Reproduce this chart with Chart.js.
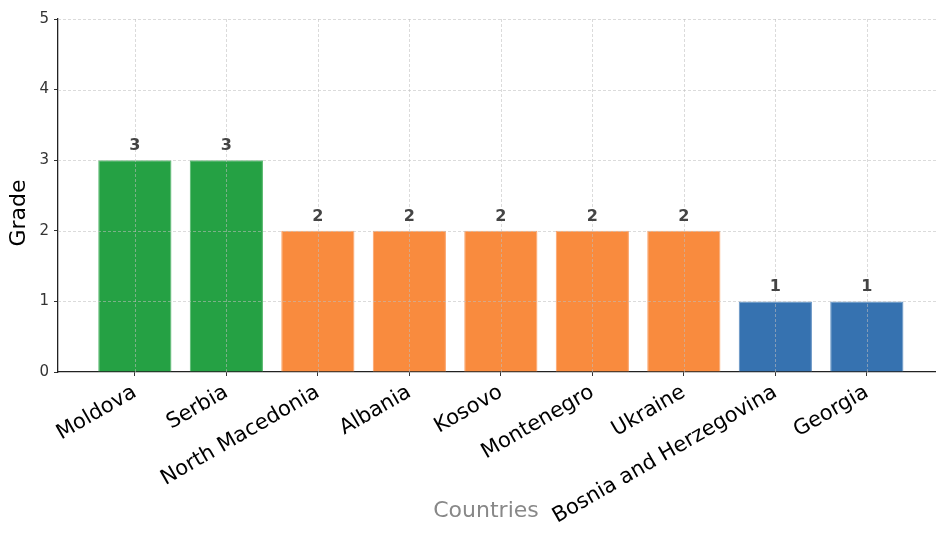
<!DOCTYPE html>
<html>
<head>
<meta charset="utf-8">
<script src="https://cdn.jsdelivr.net/npm/chart.js@4"></script>
<style>
  body { margin: 0; background: #fff; }
  canvas { display: block; }
</style>
</head>
<body>
<canvas id="gradeChart" width="936" height="536"></canvas>
<script>
// Countries and their grades
const countries = ["Moldova", "Serbia", "North Macedonia", "Albania", "Kosovo", "Montenegro", "Ukraine", "Bosnia and Herzegovina", "Georgia"];
const grades = [3, 3, 2, 2, 2, 2, 2, 1, 1];
const yTicks = [0, 1, 2, 3, 4, 5];

// Colour per grade
const gradeColors = { 3: "#25a144", 2: "#f98b3e", 1: "#3672b0" };
const gradeEdges = { 3: "#4fb567", 2: "#fba268", 1: "#5f8fc2" };

const FONT = "'DejaVu Sans', sans-serif";

// Dashed grid drawn on top of the bars
const gridOnTop = {
  id: "gridOnTop",
  afterDatasetsDraw(chart) {
    const { ctx, chartArea, scales } = chart;
    ctx.save();
    ctx.strokeStyle = "rgba(190,190,190,0.7)";
    ctx.lineWidth = 0.8;
    ctx.setLineDash([3, 2]);
    scales.y.ticks.forEach((t) => {
      if (t.value === 0) return;
      const y = Math.round(scales.y.getPixelForValue(t.value)) + 0.5;
      ctx.beginPath();
      ctx.moveTo(chartArea.left, y);
      ctx.lineTo(chartArea.right, y);
      ctx.stroke();
    });
    scales.x.ticks.forEach((t) => {
      const x = Math.round(scales.x.getPixelForValue(t.value)) + 0.5;
      ctx.beginPath();
      ctx.moveTo(x, chartArea.top);
      ctx.lineTo(x, chartArea.bottom);
      ctx.stroke();
    });
    ctx.restore();
  }
};

// Grade number above each bar
const valueLabels = {
  id: "valueLabels",
  afterDatasetsDraw(chart) {
    const { ctx } = chart;
    const meta = chart.getDatasetMeta(0);
    ctx.save();
    ctx.font = "bold 16px " + FONT;
    ctx.fillStyle = "#444";
    ctx.textAlign = "center";
    ctx.textBaseline = "alphabetic";
    meta.data.forEach((bar, i) => {
      ctx.fillText(String(grades[i]), bar.x, bar.y - 10);
    });
    ctx.restore();
  }
};

// Axis titles
const axisTitles = {
  id: "axisTitles",
  afterDraw(chart) {
    const { ctx } = chart;
    ctx.save();
    ctx.font = "22px " + FONT;
    ctx.textAlign = "center";
    ctx.textBaseline = "middle";
    ctx.fillStyle = "#888";
    ctx.fillText("Countries", 486, 511);
    ctx.translate(19, 213);
    ctx.rotate(-Math.PI / 2);
    ctx.fillStyle = "#000";
    ctx.fillText("Grade", 0, 0);
    ctx.restore();
  }
};

const ctx = document.getElementById("gradeChart").getContext("2d");
new Chart(ctx, {
  type: "bar",
  data: {
    datasets: [{
      data: grades.map((g, i) => ({ x: i, y: g })),
      backgroundColor: grades.map((g) => gradeColors[g]),
      borderColor: grades.map((g) => gradeEdges[g]),
      borderWidth: 1,
      barPercentage: 0.8,
      categoryPercentage: 1.0
    }]
  },
  options: {
    responsive: false,
    devicePixelRatio: 1,
    animation: false,
    layout: { padding: { top: 19, right: 0, left: 0, bottom: 0 } },
    plugins: { legend: { display: false }, tooltip: { enabled: false } },
    scales: {
      x: {
        type: "linear",
        min: -0.84,
        max: 8.756,
        offset: false,
        afterBuildTicks: (axis) => { axis.ticks = countries.map((c, i) => ({ value: i })); },
        afterFit: (scale) => { scale.height = 164; },
        grid: { offset: false, drawOnChartArea: false, drawTicks: true, tickLength: 4, tickColor: "#333" },
        border: { color: "#222", width: 1.3 },
        ticks: {
          autoSkip: false,
          minRotation: 30,
          maxRotation: 30,
          padding: 4,
          color: "#000",
          font: { family: FONT, size: 21 },
          callback: (value) => countries[value]
        }
      },
      y: {
        min: 0,
        max: 5,
        afterBuildTicks: (axis) => { axis.ticks = yTicks.map((v) => ({ value: v })); },
        afterFit: (scale) => { scale.width = 58; },
        grid: { drawOnChartArea: false, drawTicks: true, tickLength: 4, tickColor: "#333" },
        border: { color: "#222", width: 1.3 },
        ticks: {
          padding: 5,
          color: "#333",
          font: { family: FONT, size: 15 }
        }
      }
    }
  },
  plugins: [gridOnTop, valueLabels, axisTitles]
});
</script>
</body>
</html>
